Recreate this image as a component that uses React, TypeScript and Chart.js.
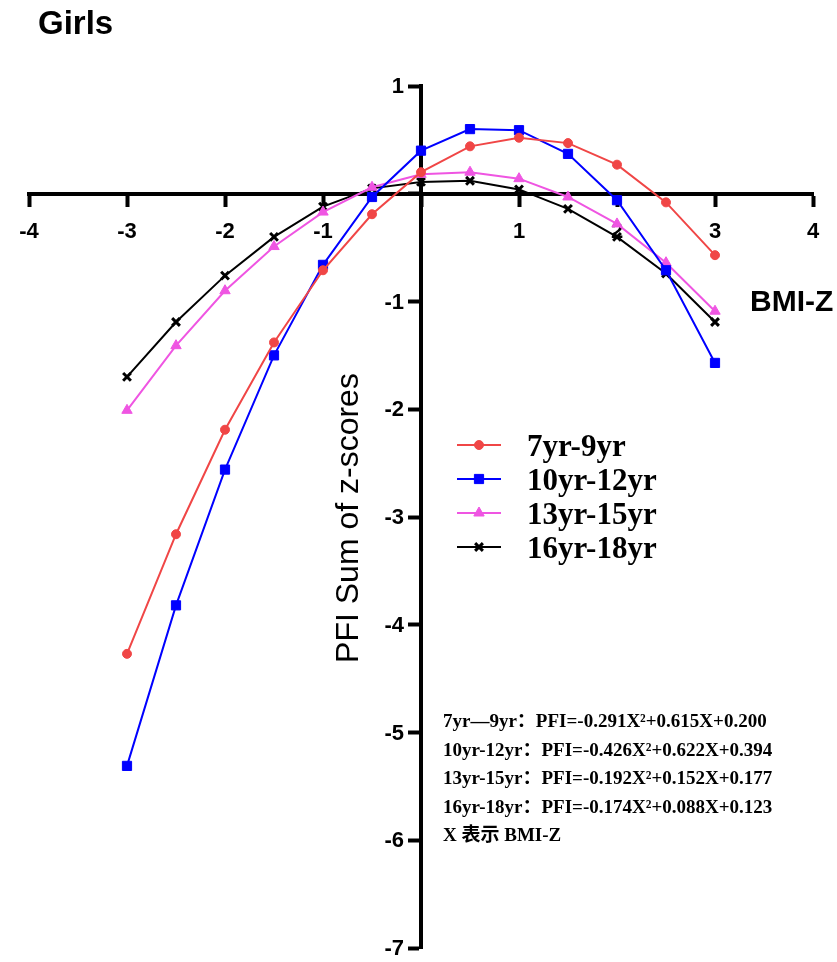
import React, { useEffect, useRef } from "react";
import { Chart, registerables } from "chart.js";
import { drawPoint } from "chart.js/helpers";

Chart.register(...registerables);

// ---- data ----
const BMI_Z = [-3, -2.5, -2, -1.5, -1, -0.5, 0, 0.5, 1, 1.5, 2, 2.5, 3];
const GIRLS_7_9 = [-4.27, -3.16, -2.19, -1.38, -0.71, -0.19, 0.2, 0.44, 0.52, 0.47, 0.27, -0.08, -0.57];
const GIRLS_10_12 = [-5.31, -3.82, -2.56, -1.5, -0.66, -0.03, 0.4, 0.6, 0.59, 0.37, -0.06, -0.71, -1.57];
const GIRLS_13_15 = [-2.01, -1.41, -0.9, -0.49, -0.17, 0.06, 0.18, 0.2, 0.14, -0.03, -0.28, -0.64, -1.09];
const GIRLS_16_18 = [-1.7, -1.19, -0.76, -0.4, -0.12, 0.05, 0.11, 0.12, 0.04, -0.14, -0.4, -0.74, -1.19];

const SERIES_LABELS = ["7yr-9yr", "10yr-12yr", "13yr-15yr", "16yr-18yr"];
const SERIES_COLORS = ["#f04646", "#0000ff", "#ef55e2", "#000000"];
const SERIES_STYLES = ["circle", "rect", "triangle", "crossRot"];
const SERIES_RADII = [4.5, 6.5, 6, 5.5];
const SERIES_BORDER = [1, 1, 1, 3];

const TITLE = "Girls";
const X_TITLE = "BMI-Z";
const Y_TITLE = "PFI Sum of z-scores";
const EQUATIONS = [
  "7yr\u20149yr\uFF1APFI=-0.291X\u00B2+0.615X+0.200",
  "10yr-12yr\uFF1APFI=-0.426X\u00B2+0.622X+0.394",
  "13yr-15yr\uFF1APFI=-0.192X\u00B2+0.152X+0.177",
  "16yr-18yr\uFF1APFI=-0.174X\u00B2+0.088X+0.123",
  "X \u8868\u793A BMI-Z",
];

const SANS = '"Liberation Sans", Arial, Helvetica, sans-serif';
const SERIF = '"Liberation Serif", "Times New Roman", "Noto Sans CJK SC", serif';
const TICK_FONT = `bold 22px ${SANS}`;

const overlayPlugin = {
  id: "overlayTexts",
  afterDraw(chart: any) {
    const ctx = chart.ctx as CanvasRenderingContext2D;
    ctx.save();
    ctx.fillStyle = "#000";

    // y tick labels (left of the axis that crosses at x = 0)
    const ys = chart.scales.y;
    const xs = chart.scales.x;
    const axisX = xs.getPixelForValue(0);
    ctx.font = TICK_FONT;
    ctx.textAlign = "right";
    ctx.textBaseline = "middle";
    ys.ticks.forEach((t: any) => {
      if (t.value === 0) return;
      ctx.fillText(String(t.value), axisX - 17, ys.getPixelForValue(t.value) + 1);
    });

    ctx.textAlign = "left";
    ctx.textBaseline = "alphabetic";

    ctx.font = `bold 33px ${SANS}`;
    ctx.fillText(TITLE, 38, 34);

    ctx.font = `bold 30px ${SANS}`;
    ctx.fillText(X_TITLE, 750, 311);

    ctx.save();
    ctx.translate(358, 518);
    ctx.rotate(-Math.PI / 2);
    ctx.textAlign = "center";
    ctx.font = `32px ${SANS}`;
    ctx.fillText(Y_TITLE, 0, 0);
    ctx.restore();

    // legend
    const rowY = [445, 479, 513, 547];
    for (let i = 0; i < SERIES_LABELS.length; i++) {
      const y = rowY[i];
      const c = SERIES_COLORS[i];
      ctx.strokeStyle = c;
      ctx.fillStyle = c;
      ctx.lineWidth = 2;
      ctx.beginPath();
      ctx.moveTo(457, y);
      ctx.lineTo(501, y);
      ctx.stroke();
      ctx.lineWidth = SERIES_BORDER[i];
      drawPoint(ctx, { pointStyle: SERIES_STYLES[i], radius: SERIES_RADII[i], rotation: 0, borderWidth: SERIES_BORDER[i] } as any, 479, y);
      ctx.fillStyle = "#000";
      ctx.font = `bold 31px ${SERIF}`;
      ctx.fillText(SERIES_LABELS[i], 527, y + 11);
    }

    // equations
    ctx.fillStyle = "#000";
    ctx.font = `bold 19px ${SERIF}`;
    EQUATIONS.forEach((t, i) => {
      ctx.fillText(t, 443, 727 + i * 28.6);
    });
    ctx.restore();
  },
};

export default function App() {
  const ref = useRef<HTMLCanvasElement | null>(null);

  useEffect(() => {
    if (!ref.current) return;
    const seriesValues = [GIRLS_7_9, GIRLS_10_12, GIRLS_13_15, GIRLS_16_18];
    const datasets = seriesValues.map((vals, i) => ({
      label: SERIES_LABELS[i],
      data: BMI_Z.map((x, j) => ({ x, y: vals[j] })),
      borderColor: SERIES_COLORS[i],
      backgroundColor: SERIES_COLORS[i],
      borderWidth: 2,
      pointStyle: SERIES_STYLES[i],
      pointRadius: SERIES_RADII[i],
      pointBorderWidth: SERIES_BORDER[i],
      pointBackgroundColor: SERIES_COLORS[i],
      pointBorderColor: SERIES_COLORS[i],
      tension: 0,
      fill: false,
      clip: false as any,
    }));

    const tickFont = { family: SANS, size: 22, weight: "bold" as const };

    const chart = new Chart(ref.current, {
      type: "line",
      data: { datasets },
      options: {
        responsive: false,
        animation: false,
        devicePixelRatio: 1,
        layout: { padding: { left: 29, right: 24, top: 86, bottom: 14 } },
        plugins: { legend: { display: false }, tooltip: { enabled: false }, title: { display: false } },
        scales: {
          x: {
            type: "linear",
            min: -4,
            max: 4,
            position: { y: 0 } as any,
            ticks: {
              stepSize: 1,
              autoSkip: false,
              maxRotation: 0,
              color: "#000",
              font: tickFont,
              padding: 14,
              callback: (v: any) => (Number(v) === 0 ? "" : String(v)),
            },
            grid: { drawOnChartArea: false, drawTicks: true, tickLength: 11, tickWidth: 4, tickColor: "#000" },
            border: { display: true, color: "#000", width: 4 },
          },
          y: {
            type: "linear",
            min: -7,
            max: 1,
            position: { x: 0 } as any,
            ticks: {
              display: false,
              stepSize: 1,
              autoSkip: false,
            },
            grid: { drawOnChartArea: false, drawTicks: true, tickLength: 11, tickWidth: 4, tickColor: "#000" },
            border: { display: true, color: "#000", width: 4 },
          },
        },
      },
      plugins: [overlayPlugin],
    });
    return () => chart.destroy();
  }, []);

  return (
    <div style={{ position: "fixed", left: 0, top: 0, width: 837, height: 962, background: "#fff" }}>
      <canvas ref={ref} width={837} height={962} style={{ width: 837, height: 962, display: "block" }} />
    </div>
  );
}
